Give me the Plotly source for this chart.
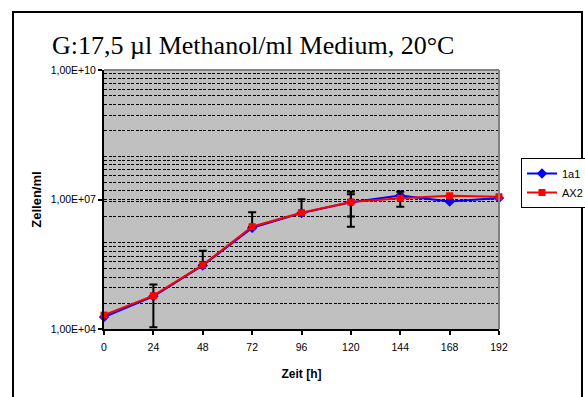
import plotly.graph_objects as go

# ---- data ----
zeit = [0, 24, 48, 72, 96, 120, 144, 168, 192]
s1a1 = [1.9e4, 5.7e4, 2.95e5, 2.2e6, 4.85e6, 8.6e6, 1.24e7, 9.0e6, 1.08e7]
sAX2 = [2.1e4, 5.9e4, 3.05e5, 2.35e6, 4.95e6, 8.75e6, 1.07e7, 1.22e7, 1.16e7]
err1a1_plus = [0, 0, 0, 0, 0, 4.55e6, 0, 0, 0]
err1a1_minus = [0, 0, 0, 0, 0, 4.55e6, 0, 0, 0]
errAX2_plus = [0, 4.8e4, 3.45e5, 2.7e6, 5.15e6, 6.4e6, 4.4e6, 0, 0]
errAX2_minus = [0, 4.8e4, 0, 0, 0, 6.4e6, 3.9e6, 0, 0]
y_major = [1e4, 1e7, 1e10]
y_major_text = ["1,00E+04", "1,00E+07", "1,00E+10"]
y_minor = [b * n * n for b in (1e4, 1e6, 1e8) for n in range(2, 11)]
x_ticks = [0, 24, 48, 72, 96, 120, 144, 168, 192]

W, H = 585, 397
L, R, T, B = 104, 499, 70, 329   # plot area in px

def px(x):
    return (x - L) / (R - L)

def py(y):
    return (B - y) / (B - T)

fig = go.Figure()
fig.add_trace(go.Scatter(
    x=zeit, y=s1a1, name="1a1", mode="lines+markers",
    line=dict(color="#0000FF", width=2),
    marker=dict(symbol="diamond", size=8, color="#0000FF"),
    error_y=dict(type="data", array=err1a1_plus, arrayminus=err1a1_minus,
                 color="black", thickness=2, width=4),
    cliponaxis=False,
))
fig.add_trace(go.Scatter(
    x=zeit, y=sAX2, name="AX2", mode="lines+markers",
    line=dict(color="#FF0000", width=2),
    marker=dict(symbol="square", size=7, color="#FF0000"),
    error_y=dict(type="data", array=errAX2_plus, arrayminus=errAX2_minus,
                 color="black", thickness=2, width=4),
    cliponaxis=False,
))

fig.update_layout(
    width=W, height=H,
    margin=dict(l=L, r=W - R, t=T, b=H - B, autoexpand=False),
    paper_bgcolor="white",
    plot_bgcolor="#C0C0C0",
    font=dict(family="Arial, Liberation Sans, sans-serif", color="black"),
    title=dict(text="G:17,5 µl Methanol/ml Medium, 20°C",
               font=dict(family="Liberation Serif, Times New Roman, serif", size=26, color="black"),
               x=52 / W, xanchor="left", xref="container",
               y=1 - 45 / H, yanchor="middle", yref="container"),
    xaxis=dict(range=[0, 192], tickvals=x_ticks, showgrid=False, zeroline=False,
               showline=True, linecolor="black", linewidth=2,
               ticks="outside", ticklen=4, tickwidth=2, tickcolor="black",
               tickfont=dict(size=10.5), ticklabelstandoff=3,
               title=dict(text="<b>Zeit [h]</b>", font=dict(size=12), standoff=18)),
    xaxis2=dict(range=[0, 192], overlaying="x", anchor="y", side="bottom",
                tickvals=x_ticks, showticklabels=False, showgrid=False, zeroline=False,
                ticks="inside", ticklen=3, tickwidth=2, tickcolor="black", showline=False),
    yaxis=dict(type="log", range=[4, 10], tickvals=y_major, ticktext=y_major_text,
               showgrid=True, gridcolor="black", gridwidth=1.3, griddash="3px,1.5px",
               zeroline=False, showline=True, linecolor="black", linewidth=2,
               ticks="outside", ticklen=4, tickwidth=1.5, tickcolor="black",
               tickfont=dict(size=10.5),
               minor=dict(tickmode="array", tickvals=y_minor, showgrid=True,
                          gridcolor="black", gridwidth=1.3, griddash="3px,1.5px", ticks=""),
               title=dict(text="<b>Zellen/ml</b>", font=dict(size=13), standoff=6)),
    legend=dict(x=px(521), y=py(158), xanchor="left", yanchor="top",
                bgcolor="white", bordercolor="black", borderwidth=1,
                font=dict(size=11), itemwidth=30, tracegroupgap=0),
    showlegend=True,
)

# plot-area frame (top and right in gray)
fig.add_shape(type="line", xref="paper", yref="paper", x0=0, x1=1, y0=1, y1=1,
              line=dict(color="#808080", width=2))
fig.add_shape(type="line", xref="paper", yref="paper", x0=1, x1=1, y0=0, y1=1,
              line=dict(color="#808080", width=2))
# outer chart border
fig.add_shape(type="rect", xref="paper", yref="paper",
              x0=px(13), x1=px(582), y0=py(405), y1=py(12),
              line=dict(color="black", width=2), fillcolor="rgba(0,0,0,0)", layer="above")

fig.write_html("out.html")
